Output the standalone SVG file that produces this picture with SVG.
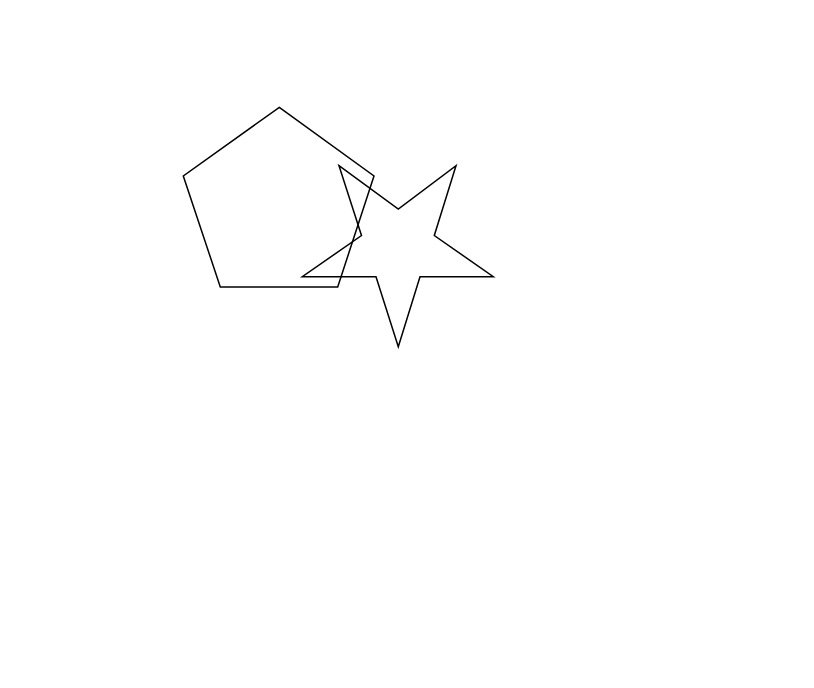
<svg xmlns="http://www.w3.org/2000/svg" width="814" height="688" viewBox="0 0 814 688">
<style>.s{fill:none;stroke:#000;stroke-width:1.5;stroke-linejoin:miter}</style>
<rect width="814" height="688" fill="#fff"/>
<g id="pentagon"><polygon class="s" points="279.3,107.3 374,176 337.7,287 220.3,287 183.3,176"/></g>
<g id="star"><polygon class="s" points="339,165.7 398.3,209 456,165.7 434.3,235.5 493.3,276.7 420,276.7 398.3,346.7 376,276.7 302.3,276.7 361.5,235.5"/></g>
</svg>
